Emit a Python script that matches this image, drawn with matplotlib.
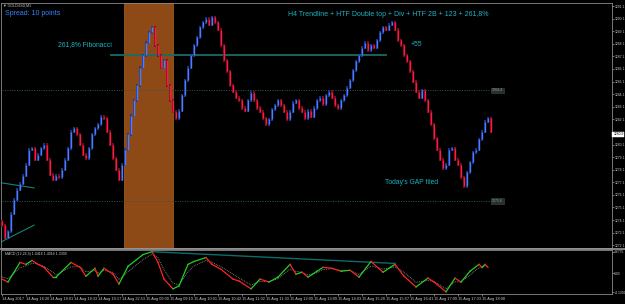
import matplotlib
matplotlib.use("Agg")
import matplotlib.pyplot as plt
from matplotlib.patches import Rectangle

# ---------------- data ----------------
closes = [
    1273.7, 1272.7, 1273.2, 1274.6, 1275.7, 1276.5, 1277.0, 1277.6, 1278.5, 1279.7,
    1279.8, 1278.9, 1279.3, 1279.8, 1280.1, 1278.9, 1277.7, 1277.3, 1277.6, 1277.5,
    1278.1, 1278.9, 1279.8, 1281.1, 1281.4, 1280.9, 1280.1, 1279.3, 1279.0, 1279.8,
    1280.9, 1281.4, 1281.7, 1282.3, 1282.2, 1281.1, 1280.1, 1279.0, 1278.1, 1277.3,
    1278.5, 1279.7, 1280.9, 1282.4, 1283.6, 1284.8, 1286.2, 1287.2, 1288.2, 1289.0,
    1289.4, 1288.0, 1287.2, 1286.2, 1286.8, 1284.8, 1283.6, 1282.7, 1282.2, 1282.8,
    1284.0, 1285.2, 1286.2, 1287.2, 1288.0, 1288.6, 1289.4, 1289.8, 1290.1, 1289.6,
    1290.2, 1289.8, 1289.2, 1288.0, 1286.8, 1285.9, 1284.8, 1284.3, 1283.8, 1283.6,
    1283.0, 1282.8, 1283.6, 1284.2, 1283.6, 1283.0, 1282.7, 1282.2, 1281.7, 1282.1,
    1282.9, 1283.2, 1283.6, 1283.2, 1282.7, 1282.1, 1282.7, 1283.4, 1283.6, 1283.0,
    1282.7, 1282.2, 1282.8, 1282.3, 1283.0, 1283.6, 1283.8, 1283.3, 1284.0, 1284.3,
    1283.8, 1283.2, 1283.0, 1283.6, 1284.0, 1284.6, 1285.2, 1286.0, 1286.7, 1287.2,
    1287.8, 1288.2, 1287.6, 1288.0, 1287.8, 1288.4, 1289.0, 1289.4, 1289.2, 1289.6,
    1289.8, 1289.2, 1288.4, 1288.0, 1287.2, 1286.7, 1285.9, 1285.1, 1284.3, 1283.8,
    1284.4, 1283.6, 1282.7, 1281.7, 1280.6, 1279.7, 1278.9, 1278.2, 1278.5, 1279.7,
    1279.8, 1278.9, 1278.5, 1277.5, 1276.8, 1277.9, 1278.7, 1279.5, 1279.7, 1280.5,
    1281.1, 1281.9, 1282.2, 1281.1,
]
first_open = 1274.0

macd_bar = [0, 2, 6, 8, 10, 12, 14, 17, 18, 23, 26, 28, 31, 32, 34, 37, 39, 42, 47, 50,
            52, 54, 57, 59, 62, 64, 68, 70, 73, 77, 79, 83, 86, 89, 92, 96, 98, 100, 102, 105,
            107, 110, 113, 116, 119, 123, 127, 131, 134, 138, 142, 144, 148, 151, 153, 156, 159, 160, 161, 162]
macd_main = [-1.29, -1.94, 2.37, 1.94, 2.80, 1.94, 1.29, -0.86, -0.86, 2.37,
             1.29, -0.65, 1.08, -0.65, 1.08, -0.22, -2.37, 1.51, 4.09, 4.73,
             2.37, -1.29, -3.44, -2.80, 1.94, 2.58, 3.44, 1.94, 0.86, -1.29,
             -1.72, -3.44, -1.29, -1.94, -0.86, 1.94, -0.22, 0.22, -0.86, 0.43,
             1.29, 1.08, 0.43, 0.65, -0.86, 2.58, 0.22, 1.94, -0.65, -3.01,
             -1.08, -1.94, -4.09, -1.08, -1.94, 0.43, 1.94, 1.29, 1.94, 1.29]
macd_signal = [-0.8, -1.2, 1.2, 1.6, 2.2, 2.0, 1.5, 0.2, -0.4, 1.4,
               1.4, 0.3, 0.6, 0.0, 0.6, 0.2, -1.4, 0.3, 3.0, 4.2,
               3.4, 0.8, -2.2, -2.6, 0.3, 1.6, 2.8, 2.4, 1.4, -0.2,
               -1.0, -2.6, -1.8, -1.8, -1.2, 0.9, 0.4, 0.2, -0.4, 0.1,
               0.8, 1.0, 0.6, 0.6, -0.3, 1.6, 0.9, 1.4, 0.2, -2.0,
               -1.6, -1.8, -3.4, -1.9, -1.9, -0.4, 1.2, 1.2, 1.6, 1.4]

time_labels = ["14 Aug 2017", "14 Aug 16:20", "14 Aug 18:01", "14 Aug 18:33", "14 Aug 19:17",
               "14 Aug 22:53", "15 Aug 09:00", "15 Aug 09:19", "15 Aug 10:01", "15 Aug 10:42",
               "15 Aug 11:02", "15 Aug 11:33", "15 Aug 12:09", "15 Aug 13:09", "15 Aug 14:03",
               "15 Aug 15:20", "15 Aug 15:57", "15 Aug 16:41", "15 Aug 17:09", "15 Aug 17:33",
               "15 Aug 18:08"]
price_ticks = [1272.1, 1273.1, 1274.1, 1275.1, 1276.1, 1277.1, 1278.1, 1279.1, 1280.1,
               1282.1, 1283.1, 1284.1, 1285.1, 1286.1, 1287.1, 1288.1, 1289.1, 1290.1, 1291.1]

fib_level = 1287.2
gap_level_high = 1284.4
gap_level_low = 1275.6
zone_start, zone_end = 40.7, 57.0
tl1 = ([0, 10.7], [1277.05, 1276.65])
tl2 = ([0, 10.7], [1272.4, 1273.7])
macd_tl = ([50, 131], [4.73, 2.15])
current_price = 1280.9

# ---------------- figure ----------------
W, H = 625, 304
fig = plt.figure(figsize=(W / 100, H / 100), dpi=100, facecolor="black")
FONT = ["Liberation Sans", "DejaVu Sans"]

def fx(px):
    return px / W

def fy(py):
    return 1 - py / H

ax = fig.add_axes([fx(1), fy(248), fx(611), (245) / H], facecolor="black")
axm = fig.add_axes([fx(1), fy(294), fx(611), (44) / H], facecolor="black")

xlim = (-0.33, 203.33)
for a in (ax, axm):
    a.set_xlim(*xlim)
    for s in a.spines.values():
        s.set_color("#8a8a8a")
        s.set_linewidth(0.6)

ax.set_ylim(1271.88, 1291.34)

# orange zone
ax.add_patch(Rectangle((zone_start, 1271.88), zone_end - zone_start, 1291.34 - 1271.88,
                       facecolor="#8e4a16", edgecolor="#a0581e", linewidth=0.6, zorder=1))

# horizontal lines
ax.plot([36.5, 128], [fib_level, fib_level], color="#1b6b66", lw=1.3, zorder=2)
ax.plot([0, 163], [gap_level_high] * 2, color="#2c5a55", lw=0.7, ls=(0, (1, 1.5)), zorder=2)
ax.plot([0, 163], [gap_level_low] * 2, color="#2c5a55", lw=0.7, ls=(0, (1, 1.5)), zorder=2)
for lvl in (gap_level_high, gap_level_low):
    ax.text(163.3, lvl, f"{lvl:.1f}", fontsize=2.5, color="#9aa0a0", va="center", ha="left",
            family=FONT, zorder=5,
            bbox=dict(boxstyle="square,pad=0.25", fc="#25302f", ec="#3c4a48", lw=0.4))

# trend lines
ax.plot(tl1[0], tl1[1], color="#16827a", lw=0.8, zorder=2)
ax.plot(tl2[0], tl2[1], color="#16827a", lw=0.8, zorder=2)

# bars
prev = first_open
for i, c in enumerate(closes):
    up = c >= prev
    col = "#4d7dff" if up else "#ff1a44"
    dark = "#1c3a9a" if up else "#8a0c22"
    lo, hi = min(prev, c), max(prev, c)
    ax.plot([i, i], [lo - 0.12, hi + 0.12], color=dark, lw=1.3, solid_capstyle="butt", zorder=3)
    ax.plot([i, i], [lo, hi], color=col, lw=1.0, solid_capstyle="butt", zorder=4)
    prev = c

# price axis
ax.yaxis.tick_right()
ax.set_yticks(price_ticks)
ax.set_yticklabels([f"{v:.1f}" for v in price_ticks])
ax.tick_params(axis="y", colors="#c8c8c8", labelsize=2.4, length=1.2, width=0.4, pad=0.5)
ax.tick_params(axis="x", bottom=False, labelbottom=False)
for lab in ax.get_yticklabels():
    lab.set_family(FONT)
ax.text(1.002, current_price, f"{current_price:.1f}", transform=ax.get_yaxis_transform(),
        fontsize=2.4, color="black", va="center", ha="left", family=FONT, zorder=6,
        bbox=dict(boxstyle="square,pad=0.25", fc="white", ec="white", lw=0.3))

# MACD panel
axm.set_ylim(-4.57, 5.10)
axm.plot(macd_bar, macd_signal, color="#9a9a9a", lw=0.6, ls=(0, (1, 1.2)), zorder=2)
for j in range(len(macd_bar) - 1):
    col = "#23d023" if macd_main[j + 1] >= macd_main[j] else "#ff2222"
    axm.plot(macd_bar[j:j + 2], macd_main[j:j + 2], color=col, lw=0.9, zorder=3)
axm.plot(macd_tl[0], macd_tl[1], color="#0f6a6a", lw=1.0, zorder=2)
axm.yaxis.tick_right()
axm.set_yticks([4.6735, 0.0, -4.1399])
axm.set_yticklabels(["4.6735", "0.00", "-4.1399"])
axm.tick_params(axis="y", colors="#c8c8c8", labelsize=2.4, length=1.2, width=0.4, pad=0.5)
axm.set_xticks([8 * k for k in range(len(time_labels))])
axm.set_xticklabels(time_labels)
axm.tick_params(axis="x", colors="#c8c8c8", labelsize=2.8, length=1.5, width=0.4, pad=0.8)
for lab in axm.get_xticklabels():
    lab.set_horizontalalignment("left")
    lab.set_family(FONT)
for lab in axm.get_yticklabels():
    lab.set_family(FONT)

# separators
fig.add_artist(plt.Line2D([0, fx(625)], [fy(248.5)] * 2, color="#9a9a9a", lw=1.2))

# texts
fig.text(fx(3), fy(5.5), "\u25bc GOLDUSD,M1", fontsize=2.6, color="#c8c8c8", va="center", family=FONT)
fig.text(fx(5), fy(13.5), "Spread: 10 points", fontsize=5.0, color="#2f86ff", va="center", family=FONT)
fig.text(fx(58), fy(44.5), "261,8% Fibonacci", fontsize=4.9, color="#1cb4c4", va="center", family=FONT)
fig.text(fx(288), fy(15), "H4 Trendline + HTF Double top + Div + HTF 2B + 123 + 261,8%",
         fontsize=5.0, color="#1cb4c4", va="center", family=FONT)
fig.text(fx(411), fy(45), "+55", fontsize=4.9, color="#1cb4c4", va="center", family=FONT)
fig.text(fx(385), fy(182), "Today's GAP filed", fontsize=4.9, color="#1cb4c4", va="center", family=FONT)
fig.text(fx(5), fy(254.5), "MACD (12,26,9) 1.0416 1.4016 1.3300", fontsize=2.6, color="#c8c8c8",
         va="center", family=FONT)

fig.savefig("out.png", dpi=100, facecolor="black")
